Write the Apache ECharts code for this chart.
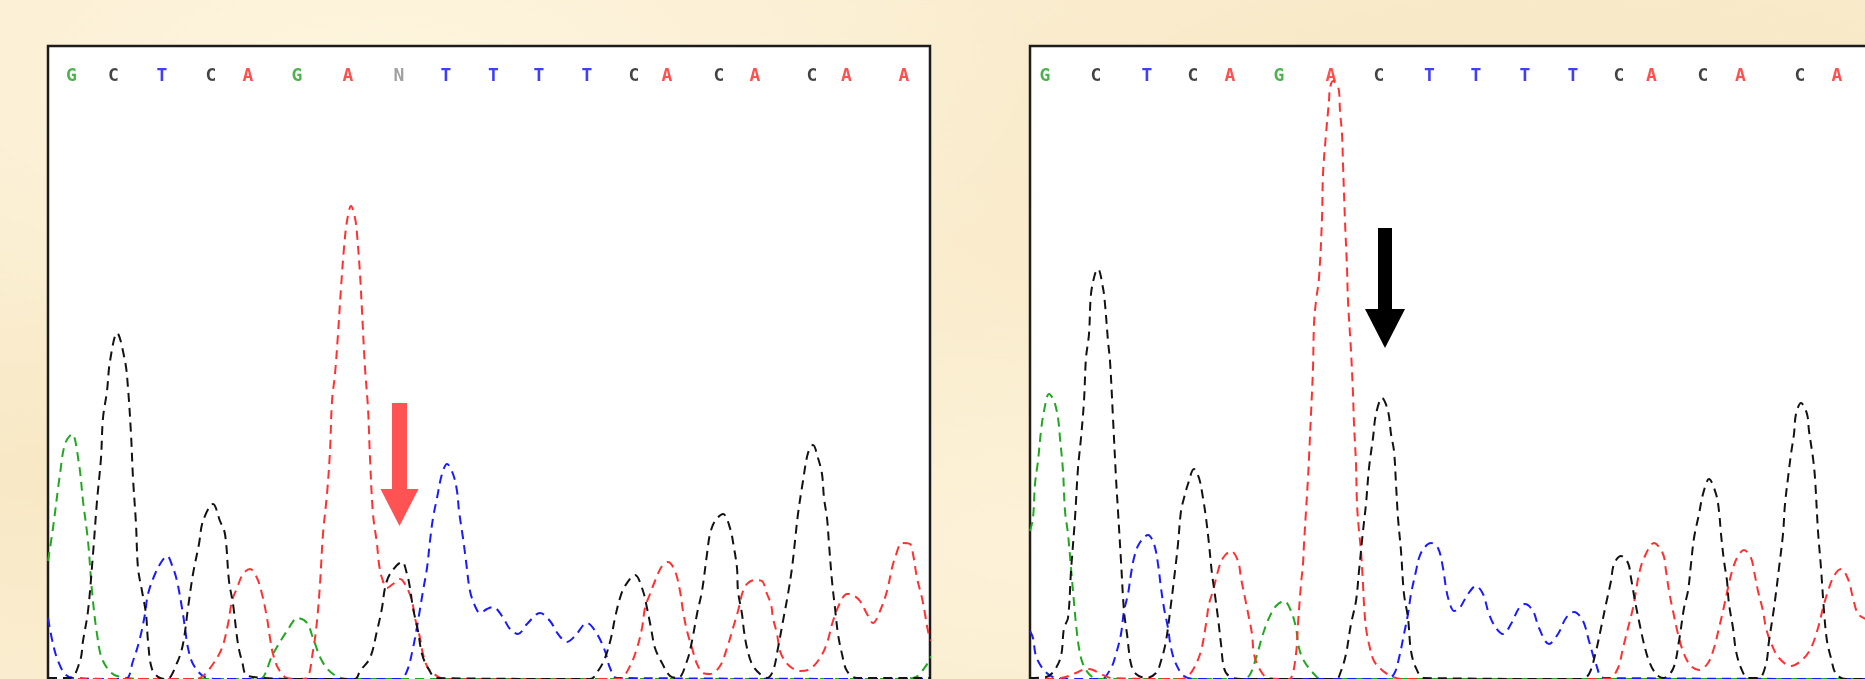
<!DOCTYPE html>
<html>
<head>
<meta charset="utf-8">
<script src="https://cdn.jsdelivr.net/npm/echarts@6/dist/echarts.min.js"></script>
<style>
html,body{margin:0;padding:0;width:1865px;height:679px;overflow:hidden;
background:#faedcf;
background-image:
 radial-gradient(ellipse at 20% 10%, rgba(255,248,228,0.7) 0%, rgba(255,248,228,0) 35%),
 radial-gradient(ellipse at 55% 80%, rgba(255,246,222,0.6) 0%, rgba(255,246,222,0) 30%),
 radial-gradient(ellipse at 85% 20%, rgba(244,226,186,0.5) 0%, rgba(244,226,186,0) 40%),
 radial-gradient(ellipse at 5% 70%, rgba(246,228,190,0.6) 0%, rgba(246,228,190,0) 30%);}
#chart{width:1865px;height:679px;}
</style>
</head>
<body>
<div id="chart"></div>
<script>
// ---------- base calls (scan position of each called base) ----------
const leftBases = ['G','C','T','C','A','G','A','N','T','T','T','T','C','A','C','A','C','A','A'];
const leftBasePos = [23.5,65.5,114,163,200,249,300,351,398,445.5,491,539,586,619,671,707,764,798.5,856];
const rightBases = ['G','C','T','C','A','G','A','C','T','T','T','T','C','A','C','A','C','A'];
const rightBasePos = [15,66,117,163,200,249,301,349,399.5,446,495,543,589,621.5,673,710.5,770,807];

// ---------- traces: [scan, intensity] ----------
// Left panel (heterozygous sample)
const leftG = [[0,121],[5,154],[12,208],[17,238],[24,248],[31,218],[35,181],[40,141],[44,91],[49,48],[55,21],[69,6],[102,3],[202,3],
 [212,3],[225,28],[239,51],[250,64],[259,59],[265,44],[274,21],[285,8],[299,3],[552,3],[832,3],[865,4],[880,19],[883,26]];
const leftC = [[0,4],[22,4],[32,21],[35,41],[40,71],[45,128],[49,181],[53,224],[55,264],[59,291],[62,321],[69,349],[77,321],[80,294],[83,248],[85,204],[88,158],[90,114],[94,91],[98,68],[100,41],[104,13],[112,4],[119,3],
 [129,19],[135,38],[140,74],[145,108],[151,138],[155,161],[165,178],[172,161],[177,148],[181,101],[185,78],[190,38],[194,21],[200,6],[252,3],[307,3],
 [312,11],[322,24],[329,51],[334,74],[337,94],[342,108],[354,120],[359,108],[362,94],[365,74],[370,51],[374,28],[380,14],[389,4],[542,3],
 [550,11],[557,24],[563,44],[567,64],[572,84],[577,96],[587,107],[595,91],[599,74],[603,54],[607,34],[614,19],[622,6],[630,4],
 [639,21],[644,41],[649,68],[654,91],[659,128],[662,148],[667,161],[675,168],[682,154],[686,134],[689,114],[690,91],[694,68],[696,51],[699,34],[704,18],[712,8],[719,4],
 [725,11],[730,34],[735,61],[740,88],[744,114],[747,141],[750,168],[755,201],[760,229],[765,237],[770,224],[774,208],[776,184],[779,164],[781,138],[784,101],[787,74],[790,48],[794,28],[799,11],[809,4],[883,4]];
const leftT = [[0,64],[5,38],[10,21],[17,8],[25,4],[77,3],
 [85,21],[92,44],[97,68],[100,88],[107,108],[114,121],[119,126],[125,114],[129,101],[134,74],[137,54],[140,34],[145,18],[155,6],[167,3],[352,3],
 [359,11],[365,34],[370,61],[375,91],[379,114],[382,141],[385,164],[389,184],[394,208],[399,218],[405,208],[409,191],[411,171],[415,144],[418,121],[422,91],[427,76],[432,69],[439,73],[445,75],[454,66],[462,53],[470,48],[479,58],[492,69],[502,61],[510,48],[519,40],[527,46],[539,59],[549,48],[557,31],[562,14],[569,4],[883,3]];
const leftA = [[0,3],[147,3],
 [155,6],[165,18],[174,34],[180,58],[184,81],[189,94],[195,108],[202,113],[209,104],[214,88],[219,64],[222,44],[225,28],[230,14],[239,4],[252,3],
 [259,4],[265,31],[269,61],[272,98],[275,148],[279,188],[282,231],[284,281],[287,308],[290,348],[293,394],[296,434],[299,461],[303,476],[307,464],[309,448],[312,408],[314,371],[317,314],[320,274],[322,224],[325,168],[329,138],[331,118],[334,104],[339,94],[345,98],[352,103],[359,94],[364,81],[367,64],[372,44],[375,28],[380,14],[389,6],[395,3],[567,3],
 [572,3],[582,16],[589,34],[594,54],[597,74],[602,88],[607,101],[614,116],[620,120],[627,111],[632,91],[635,71],[639,51],[644,34],[649,18],[655,9],[662,8],[672,16],[679,34],[685,54],[690,71],[695,91],[700,99],[707,102],[714,101],[719,88],[723,78],[725,64],[729,48],[732,31],[737,21],[744,14],[752,11],[762,13],[772,24],[779,39],[785,61],[792,79],[799,88],[805,87],[812,81],[819,68],[825,59],[832,71],[839,91],[844,114],[847,124],[854,139],[862,138],[865,128],[869,104],[874,84],[877,68],[880,51],[883,41]];

// Right panel (reference sample)
const rightG = [[0,151],[3,164],[5,198],[8,221],[11,251],[14,271],[19,288],[24,281],[28,264],[30,244],[33,211],[35,171],[38,148],[41,114],[43,91],[46,58],[49,34],[53,18],[61,6],[71,3],[211,3],
 [219,6],[226,24],[233,48],[239,64],[246,76],[254,81],[261,71],[266,54],[269,34],[274,21],[284,8],[291,3],[836,3]];
const rightC = [[0,4],[16,5],[24,11],[31,26],[34,54],[38,64],[41,111],[45,164],[48,214],[51,244],[54,281],[56,324],[59,348],[61,388],[65,408],[68,413],[73,394],[75,378],[78,341],[80,321],[83,264],[86,204],[88,171],[91,121],[94,71],[97,48],[101,18],[106,8],[116,4],
 [126,9],[131,21],[136,41],[141,78],[145,111],[148,138],[151,171],[154,184],[158,198],[164,213],[169,204],[173,184],[176,164],[179,138],[182,108],[184,94],[188,64],[191,38],[194,14],[199,6],[211,3],[306,3],
 [311,11],[316,28],[321,58],[326,81],[329,111],[333,151],[336,178],[339,214],[343,244],[346,268],[352,284],[358,271],[361,248],[364,231],[366,198],[368,164],[371,131],[374,88],[378,64],[381,31],[386,14],[394,4],[551,3],
 [559,8],[566,31],[571,54],[576,78],[581,101],[584,118],[591,126],[598,119],[601,104],[605,81],[609,61],[614,38],[619,21],[626,8],[633,4],
 [643,13],[649,41],[654,74],[658,91],[661,118],[664,144],[669,168],[673,188],[679,203],[686,188],[689,171],[691,148],[694,121],[697,101],[699,78],[703,54],[706,31],[711,14],[718,4],[729,4],
 [736,18],[739,41],[744,74],[749,114],[753,148],[755,178],[758,204],[761,228],[764,248],[766,268],[771,279],[777,268],[779,251],[783,224],[785,204],[788,151],[791,114],[794,71],[797,41],[801,24],[806,8],[816,3],[836,3]];
const rightT = [[0,51],[3,44],[6,26],[13,13],[21,6],[31,3],[71,3],
 [81,14],[86,28],[91,48],[94,71],[98,88],[101,108],[104,124],[109,138],[118,147],[124,138],[128,118],[131,94],[134,74],[138,54],[141,34],[146,18],[154,6],[166,3],[356,3],
 [364,8],[369,24],[374,48],[378,68],[381,88],[386,111],[389,124],[394,134],[401,139],[408,134],[413,114],[416,94],[419,81],[424,71],[429,73],[438,88],[446,96],[453,88],[459,68],[466,54],[473,48],[481,58],[489,74],[495,78],[503,71],[509,54],[519,38],[528,48],[536,64],[544,70],[553,61],[559,41],[566,18],[574,4],[836,3]];
const rightA = [[0,3],[31,4],[46,9],[56,13],[63,12],[71,8],[81,4],[151,3],
 [158,6],[164,14],[171,31],[176,58],[179,78],[183,91],[188,111],[193,124],[201,131],[208,121],[211,104],[215,84],[219,64],[222,48],[224,28],[229,14],[238,4],[256,3],
 [261,4],[266,28],[268,58],[271,98],[273,118],[274,138],[276,171],[278,204],[279,224],[281,268],[283,314],[284,358],[286,381],[289,404],[292,464],[293,508],[296,548],[299,581],[300,594],[303,601],[307,597],[309,591],[310,571],[312,548],[313,518],[315,461],[317,414],[318,381],[321,331],[323,288],[324,258],[326,218],[327,178],[329,151],[331,131],[333,98],[334,78],[336,54],[339,38],[344,21],[353,11],[361,6],[371,3],[571,3],
 [579,3],[588,14],[593,34],[598,54],[603,74],[606,91],[609,108],[614,124],[624,139],[633,128],[636,111],[639,91],[643,71],[648,48],[654,28],[661,16],[669,12],[678,19],[684,34],[689,54],[693,71],[698,94],[703,114],[708,126],[714,132],[721,124],[724,111],[728,91],[733,71],[736,54],[741,39],[749,24],[761,16],[773,23],[781,34],[788,54],[793,74],[798,91],[804,106],[811,113],[818,103],[823,84],[828,68],[836,63]];

// ---------- arrows: [scan, shaftTop, headBase, tip] ----------
const leftArrow = [351.5, 279, 193, 156];
const rightArrow = [355, 454, 373, 334];

// ---------- styling ----------
const SCAN_MAX = 882, INT_MAX = 636, LABEL_LEVEL = 606;
const baseColor = {A:'#ff2424', C:'#141414', G:'#1fa01f', T:'#1010f0', N:'#8a8a8a'};
const traceColor = {A:'#ff3030', C:'#121212', G:'#20a820', T:'#1a1aff'};
const dash = [9, 6];

const panels = [
  {grid:{left:48, top:46, width:882, height:636}, traces:{G:leftG, T:leftT, A:leftA, C:leftC}, bases:leftBases, pos:leftBasePos, weight:'bold', arrow:leftArrow, arrowColor:'#ff5252', shaftW:15, headW:38},
  {grid:{left:1030, top:46, width:882, height:636}, traces:{G:rightG, T:rightT, A:rightA, C:rightC}, bases:rightBases, pos:rightBasePos, weight:'bold', arrow:rightArrow, arrowColor:'#000000', shaftW:14, headW:40}
];

const grids = [], xAxes = [], yAxes = [], series = [];
panels.forEach((p, i) => {
  grids.push(Object.assign({show:true, outerBoundsMode:'none', containLabel:false, backgroundColor:'#ffffff', borderColor:'#1c1c1c', borderWidth:2.5}, p.grid));
  xAxes.push({type:'value', gridIndex:i, min:0, max:SCAN_MAX, show:false});
  yAxes.push({type:'value', gridIndex:i, min:0, max:INT_MAX, show:false});
  ['G','T','A','C'].forEach(b => {
    series.push({type:'line', xAxisIndex:i, yAxisIndex:i, data:p.traces[b], smooth:0.35, symbol:'none',
      lineStyle:{color:traceColor[b], width:2, type:dash}, z:2, silent:true});
  });
  series.push({type:'scatter', xAxisIndex:i, yAxisIndex:i, symbolSize:1, itemStyle:{color:'transparent'}, z:5, silent:true,
    data:p.bases.map((b, k) => ({name:b, value:[p.pos[k], LABEL_LEVEL],
      label:{show:true, position:'inside', formatter:b, color:baseColor[b], fontFamily:'DejaVu Sans Mono', fontWeight:p.weight, fontSize:18}}))});
  const col = p.arrowColor, sw = p.shaftW, hw = p.headW;
  series.push({type:'custom', xAxisIndex:i, yAxisIndex:i, z:6, silent:true,
    encode:{x:0, y:[1,2,3]},
    data:[p.arrow],
    renderItem:(params, api) => {
      const a = api.coord([api.value(0), api.value(1)]);
      const h = api.coord([api.value(0), api.value(2)]);
      const t = api.coord([api.value(0), api.value(3)]);
      return {type:'group', children:[
        {type:'rect', shape:{x:a[0]-sw/2, y:a[1], width:sw, height:h[1]-a[1]+1}, style:{fill:col}},
        {type:'polygon', shape:{points:[[h[0]-hw/2, h[1]], [h[0]+hw/2, h[1]], [t[0], t[1]]]}, style:{fill:col}}
      ]};
    }});
});

const chart = echarts.init(document.getElementById('chart'), null, {renderer:'canvas'});
chart.setOption({animation:false, backgroundColor:'transparent', grid:grids, xAxis:xAxes, yAxis:yAxes, series:series});
</script>
</body>
</html>
